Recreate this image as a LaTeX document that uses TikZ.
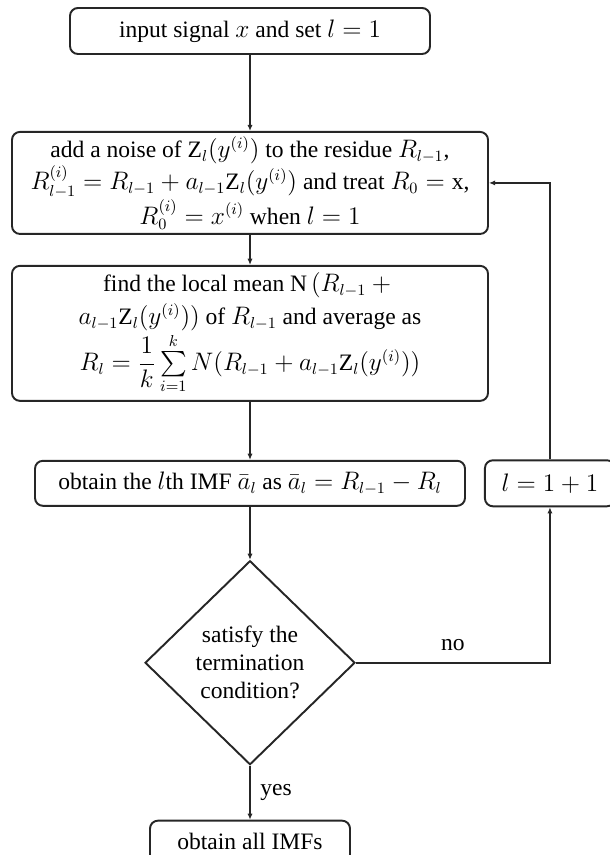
\documentclass[tikz,border=0pt]{standalone}
\usepackage{fontspec}
\setmainfont{Liberation Serif}
\usepackage{amsmath}
\usetikzlibrary{positioning, shapes.geometric, arrows.meta}

\begin{document}
\begin{tikzpicture}[
        every node/.style={font=\fontsize{13.4}{16}\selectfont},
        procbox/.style={draw=black!85, line width=1.1pt, rounded corners=4.5pt, align=center, inner sep=0pt},
        decision/.style={diamond, draw=black!85, line width=1.1pt, align=center, inner sep=0pt, minimum width=4.2cm, minimum height=4.08cm},
        flow/.style={draw=black!85, line width=1.1pt, -{Latex[length=3.5pt,width=3pt]}}
    ]
        \useasboundingbox (0,0) rectangle (12.18,-17.1);

        \node[procbox, minimum width=7.2cm, minimum height=0.92cm](start) at (5,-0.62){input signal $x$ and set $l = 1$};
        \node[procbox, minimum width=9.52cm, minimum height=2.04cm](noise)[below = 1.52cm of start]{add a noise of $\mathrm{Z}_l(y^{(i)})$ to the residue $R_{l-1}$,\\
            $R^{(i)}_{l-1} = R_{l-1} + a_{l-1}\mathrm{Z}_l(y^{(i)})$ and treat $R_0 = \mathrm{x}$,\\
            $R^{(i)}_0 = x^{(i)}$ when $l = 1$};
        \node[procbox, minimum width=9.52cm, minimum height=2.7cm](mean)[below = 0.6cm of noise]{find the local mean N\,$(R_{l-1} +{}$\\[3pt]
            $a_{l-1}\mathrm{Z}_l(y^{(i)}))$ of $R_{l-1}$ and average as\\
            $R_l = \dfrac{1}{k}\sum\limits_{i=1}^{k} N(R_{l-1} + a_{l-1}\mathrm{Z}_l(y^{(i)}))$};
        \node[procbox, minimum width=8.6cm, minimum height=0.9cm](imf)[below = 1.16cm of mean]{obtain the $l$th IMF $\bar{a}_l$ as $\bar{a}_l = R_{l-1} - R_l$};
        \node[procbox, minimum width=2.6cm, minimum height=0.92cm](incr)[right = 0.36cm of imf]{$l = 1 + 1$};
        \node[decision](check)[below = 1.06cm of imf]{satisfy the\\termination\\condition?};
        \node[procbox, minimum width=4cm, minimum height=0.84cm](stop)[below = 1.08cm of check]{obtain all IMFs};

        \path[flow]
        (start) edge (noise)
        (noise) edge (mean)
        (mean) edge (imf)
        (imf) edge (check)
        (check) edge node[right=2pt] {yes} (stop);

        \draw[flow] (check.east) -| node[pos=0.25, above=3pt] {no} (incr.south);
        \draw[flow] (incr.north) |- (noise.east);
    \end{tikzpicture}
\end{document}
